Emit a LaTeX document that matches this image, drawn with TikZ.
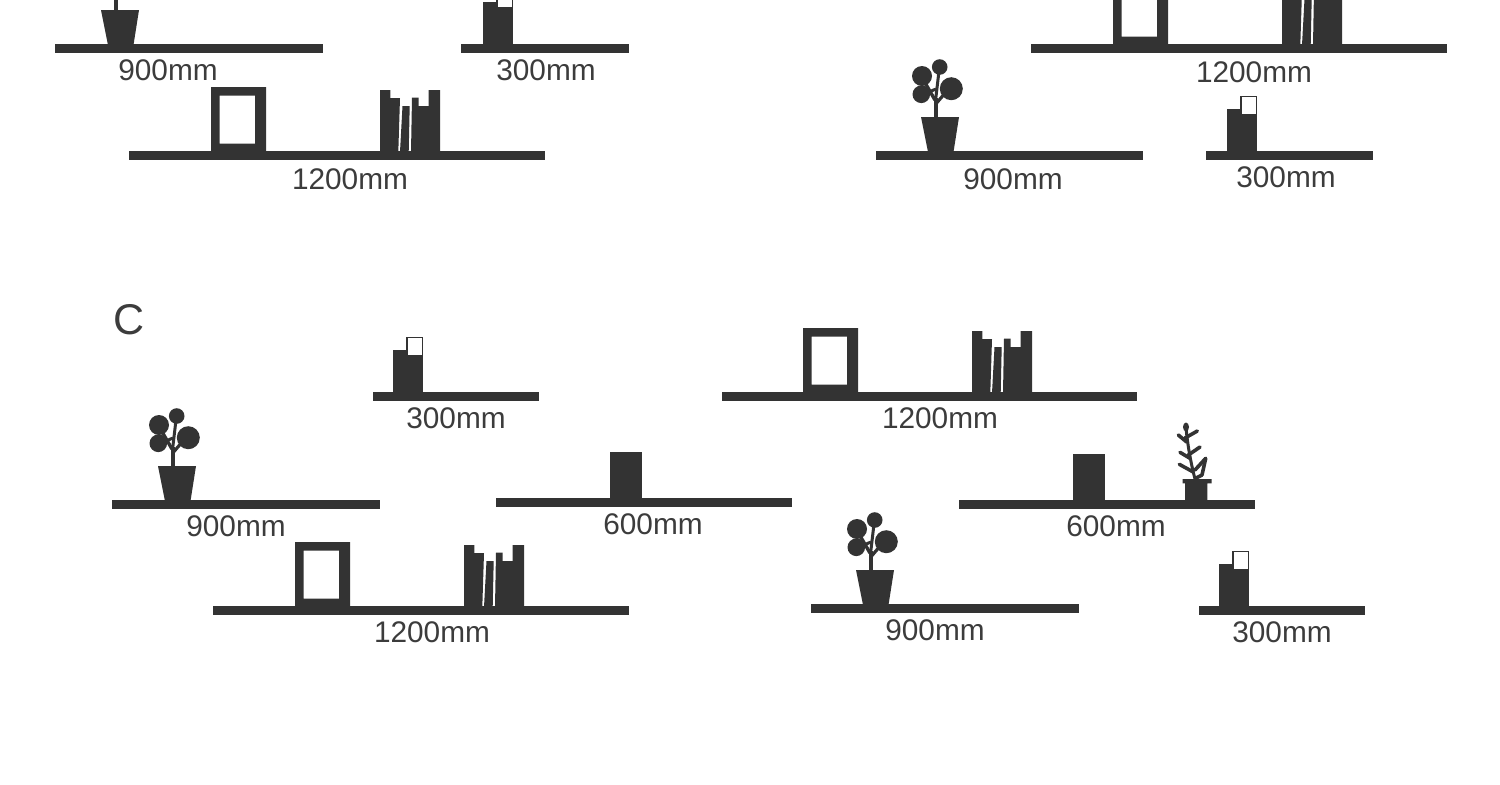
\documentclass[tikz,border=0pt]{standalone}
\usepackage{fontspec}
\setmainfont{Liberation Sans}
\definecolor{ink}{HTML}{333333}
\definecolor{txt}{HTML}{3C3C3C}
\tikzset{
  x=.5pt,y=-.5pt,
  lab/.style={text=txt,font=\fontsize{14.9}{16}\selectfont,inner sep=0pt,anchor=center},
  shelfbar/.pic={\fill[ink] (0,0) rectangle (#1,9.2);},
  pictureframe/.pic={\fill[ink,even odd rule] (0,1) rectangle (55,-64) (8.5,-55.5) rectangle (44,-7.5);},
  booksrow/.pic={
    \fill[ink] (0,1)--(0,-61)--(10.3,-61)--(10.3,-53)--(20,-53)--(18.3,1)--cycle;
    \fill[ink] (22.5,-45)--(29.7,-45)--(28.7,1)--(20,1)--cycle;
    \fill[ink] (32,-53.5)--(38.7,-53.5)--(38.7,-45)--(48.7,-45)--(48.7,-61)--(60,-61)--(60,1)--(31,1)--cycle;},
  cardbox/.pic={
    \fill[ink] (0,1) rectangle (30,-42);
    \filldraw[fill=white,draw=ink,line width=.8pt] (14,-54.5) rectangle (29.5,-36.5);},
  solidblock/.pic={\fill[ink] (0,1) rectangle (32,-46);},
  roundplant/.pic={
    \fill[ink] (-19,-34)--(19,-34)--(13.5,1)--(-12,1)--cycle;
    \draw[ink,line width=1.9pt] (-4.3,-34)--(-4.3,-53);
    \draw[ink,line width=1.6pt] (-4.3,-47)--(6,-59);
    \draw[ink,line width=1.5pt] (-4.3,-52)--(-1,-80);
    \draw[ink,line width=1.7pt] (-5,-51)--(-16,-70);
    \draw[ink,line width=1.5pt] (-4,-62)--(-16,-57);
    \fill[ink] (-0.3,-84) circle[radius=7.8];
    \fill[ink] (-18,-75) circle[radius=10];
    \fill[ink] (-18.7,-56.7) circle[radius=8.8];
    \fill[ink] (11.3,-62.3) circle[radius=11.5];},
  fernplant/.pic={
    \fill[ink] (-3,1)--(-3,-16.7)--(-5.3,-16.7)--(-5.3,-21)--(23.7,-21)--(23.7,-16.7)--(19.3,-16.7)--(19.3,1)--cycle;
    \draw[ink,line width=1.5pt,line cap=round] (-2,-73)..controls (-1,-60) and (2,-40)..(7,-21);
    \foreach \a/\b/\c/\d in {-3/-62/9.3/-69, -9.7/-65/-1.3/-58, 0.3/-45/12/-53, -8/-47.7/2/-41.7, -8.7/-35.7/5.3/-28, 7/-30/17.7/-41.7, 17.7/-41.7/14/-25, 14/-25/8/-22}{
      \draw[ink,line width=1.8pt,line cap=round] (\a,\b)--(\c,\d);}
    \fill[ink] (-2,-73) ellipse[x radius=3,y radius=4.5];},
}
\begin{document}
\begin{tikzpicture}
\useasboundingbox (0,0) rectangle (1500,784);
\fill[white] (0,0) rectangle (1500,784);
\clip (0,0) rectangle (1500,784);
% top left
\pic at (55,44) {shelfbar=268};
\pic at (120,44) {roundplant};
\node[lab] (a900) at (168,70.5) {900mm};
\pic at (461,44) {shelfbar=168};
\pic at (483,44) {cardbox};
\node[lab] (a300) at (546,70.5) {300mm};
\pic at (129,151) {shelfbar=416};
\pic at (211,151) {pictureframe};
\pic at (380,151) {booksrow};
\node[lab] (a1200) at (350,179) {1200mm};
% top right
\pic at (1031,44) {shelfbar=416};
\pic at (1113,44) {pictureframe};
\pic at (1282,44) {booksrow};
\node[lab] (b1200) at (1254,72) {1200mm};
\pic at (876,151) {shelfbar=267};
\pic at (940,151) {roundplant};
\node[lab] (b900) at (1013,179) {900mm};
\pic at (1206,151) {shelfbar=167};
\pic at (1227,151) {cardbox};
\node[lab] (b300) at (1286,177) {300mm};
% C
\node[text=txt,font=\fontsize{21.5}{24}\selectfont,inner sep=0pt] (clabel) at (129,320) {C};
\pic at (373,392) {shelfbar=166};
\pic at (393,392) {cardbox};
\node[lab] (c300) at (456,418) {300mm};
\pic at (722,392) {shelfbar=415};
\pic at (803,392) {pictureframe};
\pic at (972,392) {booksrow};
\node[lab] (c1200) at (940,418) {1200mm};
\pic at (112,500) {shelfbar=268};
\pic at (177,500) {roundplant};
\node[lab] (c900) at (236,526) {900mm};
\pic at (496,498) {shelfbar=296};
\pic at (610,498) {solidblock};
\node[lab] (c600) at (653,524) {600mm};
\pic at (959,500) {shelfbar=296};
\pic at (1073,500) {solidblock};
\pic at (1188,500) {fernplant};
\node[lab] (c600b) at (1116,526) {600mm};
\pic at (213,606) {shelfbar=416};
\pic at (295,606) {pictureframe};
\pic at (464,606) {booksrow};
\node[lab] (c1200b) at (432,632) {1200mm};
\pic at (811,604) {shelfbar=268};
\pic at (875,604) {roundplant};
\node[lab] (c900b) at (935,630) {900mm};
\pic at (1199,606) {shelfbar=166};
\pic at (1219,606) {cardbox};
\node[lab] (c300b) at (1282,632) {300mm};
\end{tikzpicture}
\end{document}
